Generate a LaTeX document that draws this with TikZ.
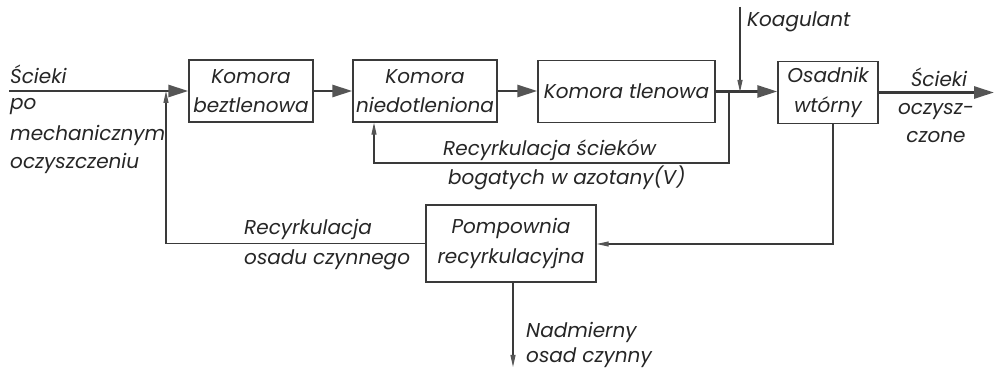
\documentclass[tikz,border=0pt]{standalone}
\usepackage{fontspec}
\setmainfont{Poppins}
\usetikzlibrary{arrows.meta}
\definecolor{ln}{HTML}{3A3A3A}
\definecolor{ah}{HTML}{555555}
\definecolor{txt}{HTML}{262626}
\begin{document}
\begin{tikzpicture}[x=1pt,y=-1pt,
  every node/.style={font=\fontsize{20}{29.5}\selectfont\itshape, text=txt},
  box/.style={draw=ln, line width=1.4pt, inner sep=0pt, align=center, minimum height=62pt},
  flow/.style={draw=ln, line width=2.8pt, -{Triangle[length=20pt,width=12pt,color=ah]}},
  thinline/.style={draw=ln, line width=1.1pt},
  thinarrow/.style={thinline, -{Triangle[length=12pt,width=5pt,color=ah]}},
  lbl/.style={anchor=base west, inner sep=0pt},
  lblc/.style={anchor=base, inner sep=0pt}
]
\fill[white] (0,0) rectangle (994,371);
\useasboundingbox (0,0) rectangle (994,371);

% boxes
\node[box, minimum width=124pt] (bez) at (251,91) {Komora\\beztlenowa};
\node[box, minimum width=144pt] (nied) at (425,91) {Komora\\niedotleniona};
\node[box, minimum width=177pt] (tlen) at (626.5,91.5) {Komora tlenowa};
\node[box, minimum width=100pt] (osad) at (828,92.5) {Osadnik\\wtórny};
\node[box, minimum width=170pt, minimum height=77pt] (pomp) at (511,243.5) {Pompownia\\recyrkulacyjna};

% coordinates
\coordinate (in) at (9,91);
\coordinate (out) at (994,92.5);
\coordinate (j1) at (166,91);
\coordinate (r1) at (729,92);
\coordinate (r1b) at (729,163);
\coordinate (r1c) at (374,163);
\coordinate (k0) at (740,7);
\coordinate (k1) at (740,92);
\coordinate (o2) at (833,244);
\coordinate (nad) at (513,367);

% main flow
\draw[flow] (in) -- (bez.west);
\draw[flow] (bez) -- (nied);
\draw[flow] (nied.east) -- (nied.east -| tlen.west);
\draw[flow] (tlen.east) -- (tlen.east -| osad.west);
\draw[flow] (osad.east) -- (out);

% recirculations
\draw[thinarrow] (r1) -- (r1b) -- (r1c) -- (r1c |- nied.south);
\draw[thinarrow] (osad.south -| o2) -- (o2) -- (pomp.east |- o2);
\draw[thinarrow] (pomp.west) -| (j1);
\draw[thinarrow] (k0) -- (k1);
\draw[thinarrow] (pomp.south -| nad) -- (nad);

% labels
\node[lbl] (l1) at (10,84) {Ścieki};
\node[lbl] (l2) at (10,110) {po};
\node[lbl] (l3) at (10,141) {mechanicznym};
\node[lbl] (l4) at (10,169) {oczyszczeniu};
\node[lbl] (rs1) at (443,156) {Recyrkulacja ścieków};
\node[lbl] (rs2) at (448,185) {bogatych w azotany(V)};
\node[lbl] (ro1) at (244,235) {Recyrkulacja};
\node[lbl] (ro2) at (244,265) {osadu czynnego};
\node[lbl] (ko) at (747,27) {Koagulant};
\node[lbl] (na1) at (526,338) {Nadmierny};
\node[lbl] (na2) at (526,363) {osad czynny};
\node[lblc] (o1) at (939,87) {Ścieki};
\node[lblc] (o2t) at (936,115) {oczysz-};
\node[lblc] (o3) at (936,143) {czone};
\end{tikzpicture}
\end{document}
